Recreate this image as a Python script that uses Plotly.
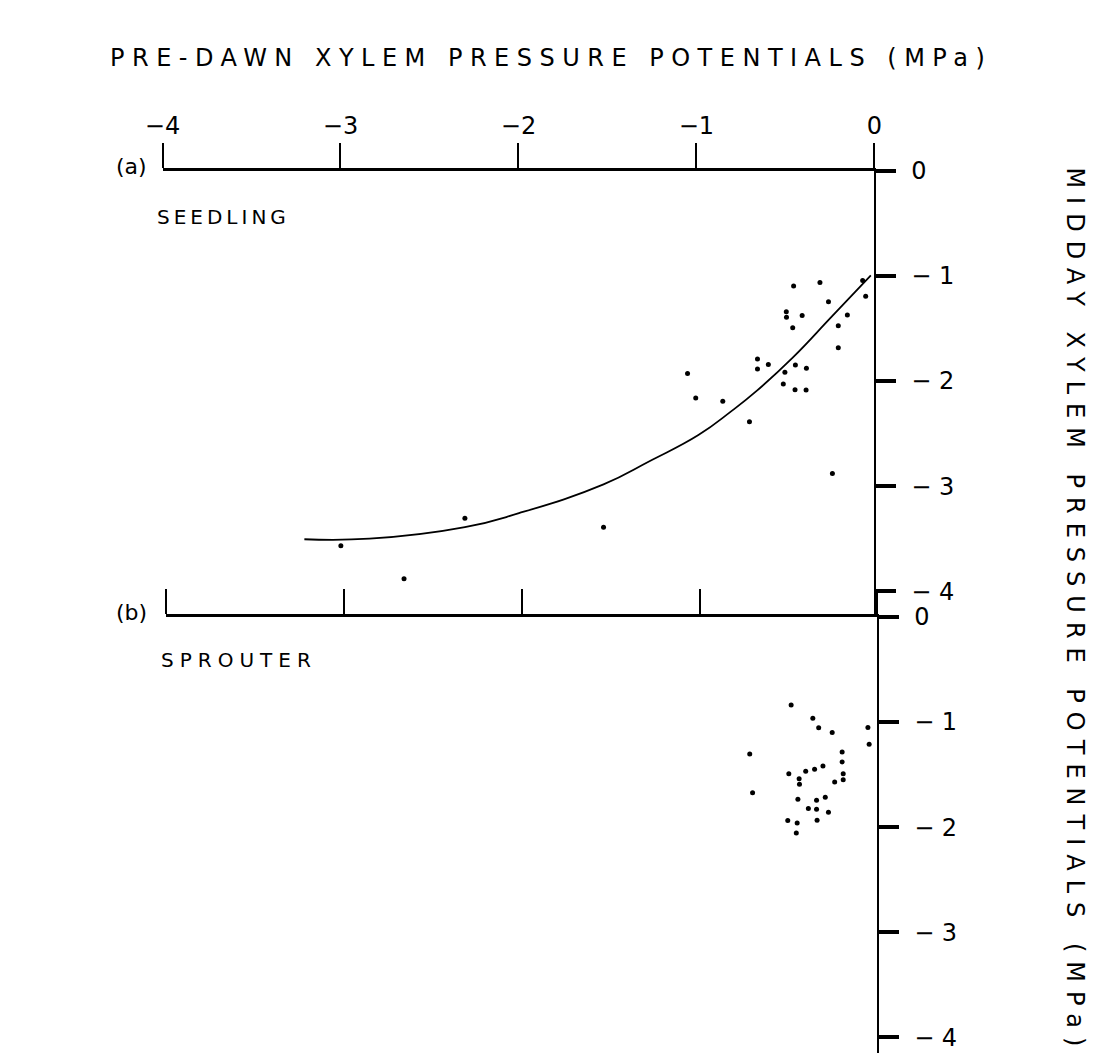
import plotly.graph_objects as go

W, H = 1107, 1057

# ---------------- data ----------------
# (a) SEEDLING: pre-dawn (x) vs midday (y) xylem pressure potentials, MPa
seed_x = [-0.454, -0.306, -0.258, -0.495, -0.494, -0.406, -0.459, -0.152, -0.203,
          -0.203, -0.049, -0.066, -0.657, -0.657, -0.596, -0.444, -0.382, -0.503,
          -0.512, -0.446, -0.384, -1.050, -1.004, -0.852, -0.702, -2.301, -1.522,
          -2.998, -2.643, -0.236]
seed_y = [-1.096, -1.061, -1.246, -1.340, -1.392, -1.377, -1.493, -1.371, -1.474,
          -1.684, -1.192, -1.042, -1.791, -1.885, -1.843, -1.847, -1.878, -1.915,
          -2.028, -2.082, -2.085, -1.928, -2.160, -2.191, -2.388, -3.305, -3.390,
          -3.568, -3.881, -2.880]

# fitted curve for (a)
curve_x = [-3.203, -2.837, -2.301, -1.997, -1.522, -1.264, -0.989, -0.807,
           -0.660, -0.459, -0.240, -0.020]
curve_y = [-3.505, -3.500, -3.390, -3.257, -2.983, -2.763, -2.514, -2.291,
           -2.091, -1.777, -1.387, -0.995]

# (b) SPROUTER
sprout_x = [-0.485, -0.363, -0.330, -0.254, -0.053, -0.046, -0.718, -0.198, -0.198,
            -0.498, -0.403, -0.353, -0.306, -0.440, -0.438, -0.192, -0.192, -0.240,
            -0.702, -0.447, -0.342, -0.293, -0.388, -0.342, -0.275, -0.504, -0.451,
            -0.339, -0.456]
sprout_y = [-0.838, -0.964, -1.054, -1.101, -1.052, -1.211, -1.305, -1.286, -1.380,
            -1.493, -1.468, -1.449, -1.418, -1.540, -1.593, -1.493, -1.549, -1.571,
            -1.674, -1.734, -1.744, -1.715, -1.824, -1.831, -1.859, -1.937, -1.960,
            -1.934, -2.056]

x_ticks = [-4, -3, -2, -1, 0]
x_tick_text = ["−4", "−3", "−2", "−1", "0"]
y_ticks = [0, -1, -2, -3, -4]
y_tick_text = ["0", "− 1", "− 2", "− 3", "− 4"]

x_title = "PRE-DAWN XYLEM PRESSURE POTENTIALS (MPa)"
y_title = "MIDDAY XYLEM PRESSURE POTENTIALS (MPa)"

FONT = "DejaVu Sans"

def px_x(p):
    return p / W

def px_y(p):
    return 1 - p / H

fig = go.Figure()

fig.add_trace(go.Scatter(x=seed_x, y=seed_y, mode="markers", xaxis="x", yaxis="y",
                         marker=dict(color="black", size=5), showlegend=False,
                         cliponaxis=False))
fig.add_trace(go.Scatter(x=curve_x, y=curve_y, mode="lines", xaxis="x", yaxis="y",
                         line=dict(color="black", width=1.8, shape="spline", smoothing=1.3),
                         showlegend=False))
fig.add_trace(go.Scatter(x=sprout_x, y=sprout_y, mode="markers", xaxis="x2", yaxis="y2",
                         marker=dict(color="black", size=5), showlegend=False,
                         cliponaxis=False))

common_x = dict(range=[-4, 0], side="top", showline=True, linecolor="black",
                linewidth=2.5, ticks="outside", ticklen=25, tickwidth=1.5,
                tickcolor="black", tickvals=x_ticks, ticktext=x_tick_text,
                showgrid=False, zeroline=False,
                tickfont=dict(family=FONT, size=24, color="black"))
common_y = dict(side="right", showline=True, linecolor="black", linewidth=2,
                ticks="outside", ticklen=20, tickwidth=4, tickcolor="black",
                tickvals=y_ticks, ticktext=y_tick_text, showgrid=False,
                zeroline=False, ticklabelstandoff=10,
                tickfont=dict(family=FONT, size=24, color="black"))

fig.update_layout(
    width=W, height=H, autosize=False,
    margin=dict(l=0, r=0, t=0, b=0),
    paper_bgcolor="white", plot_bgcolor="white",
    xaxis=dict(domain=[px_x(148), px_x(877)], anchor="y", **common_x),
    yaxis=dict(domain=[px_y(609.5), px_y(159)], anchor="x", range=[-4.23, 0], **common_y),
    xaxis2=dict(domain=[px_x(152), px_x(880)], anchor="y2", showticklabels=False,
                **common_x),
    yaxis2=dict(domain=[px_y(1053), px_y(611)], anchor="x2", range=[-4.15, 0], **common_y),
)

ann_font = dict(family=FONT, size=24, color="black")
fig.add_annotation(text=f'<span style="letter-spacing:7.5px">{x_title}</span>',
                   xref="paper", yref="paper", x=px_x(546), y=px_y(45),
                   showarrow=False, font=ann_font, xanchor="center", yanchor="middle")
fig.add_annotation(text=f'<span style="letter-spacing:9px">{y_title}</span>',
                   xref="paper", yref="paper", x=px_x(1082), y=px_y(605),
                   textangle=90, showarrow=False, font=ann_font,
                   xanchor="center", yanchor="middle")
fig.add_annotation(text="(a)", xref="paper", yref="paper", x=px_x(116), y=px_y(155),
                   showarrow=False, font=dict(family=FONT, size=22, color="black"),
                   xanchor="center", yanchor="middle")
fig.add_annotation(text="(b)", xref="paper", yref="paper", x=px_x(116), y=px_y(607),
                   showarrow=False, font=dict(family=FONT, size=22, color="black"),
                   xanchor="center", yanchor="middle")
fig.add_annotation(text='<span style="letter-spacing:4px">SEEDLING</span>',
                   xref="paper", yref="paper", x=px_x(140), y=px_y(206),
                   showarrow=False, font=dict(family=FONT, size=20, color="black"),
                   xanchor="left", yanchor="middle")
fig.add_annotation(text='<span style="letter-spacing:6px">SPROUTER</span>',
                   xref="paper", yref="paper", x=px_x(144), y=px_y(655),
                   showarrow=False, font=dict(family=FONT, size=20, color="black"),
                   xanchor="left", yanchor="middle")

fig.write_html("out.html")
